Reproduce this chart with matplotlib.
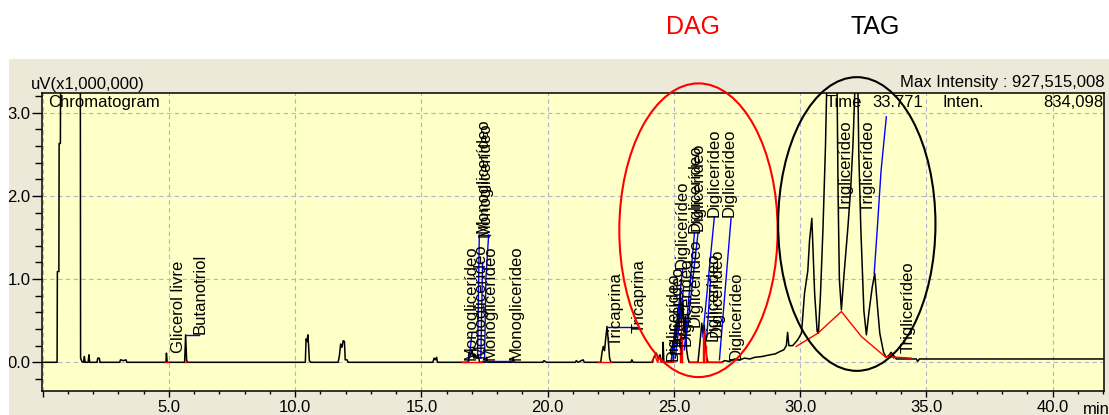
import matplotlib
matplotlib.use("Agg")
import matplotlib.pyplot as plt
from matplotlib.patches import Rectangle, Ellipse
from matplotlib.ticker import MultipleLocator

plt.rcParams['font.family'] = ['Liberation Sans', 'DejaVu Sans']

# ---- chromatogram trace (tempo em min, sinal em uV x 1e6) ----
trace_t = [0.0, 0.57, 0.58, 0.64, 0.65, 0.70, 0.71, 1.49, 1.50, 1.55, 1.62, 1.65, 1.68, 1.80,
           1.83, 1.86, 2.15, 2.18, 2.24, 2.27, 3.05, 3.08, 3.2, 3.3, 3.33, 4.88, 4.90, 4.93,
           5.62, 5.64, 5.66, 5.70, 5.75, 10.40, 10.43, 10.47, 10.50, 10.53, 10.56, 10.62,
           11.70, 11.75, 11.80, 11.85, 11.90, 11.95, 11.98, 12.05, 12.1, 15.45, 15.5, 15.55,
           15.6, 15.63, 16.85, 16.88, 16.95, 17.0, 17.05, 17.1, 17.18, 17.25, 17.30, 17.55,
           17.58, 17.62, 18.6, 18.63, 18.67, 19.8, 19.85, 19.95, 21.1, 21.13, 21.2, 21.4,
           21.45, 22.1, 22.15, 22.2, 22.25, 22.3, 22.35, 22.4, 22.45, 22.5, 23.3, 23.33,
           23.38, 24.15, 24.2, 24.3, 24.38, 24.45, 24.5, 24.55, 24.57, 24.6, 24.9, 24.95,
           25.0, 25.05, 25.1, 25.15, 25.2, 25.25, 25.3, 25.35, 25.4, 25.45, 25.5, 25.55,
           25.6, 25.95, 26.0, 26.05, 26.1, 26.15, 26.2, 26.25, 26.3, 26.35, 26.9, 27.0,
           27.2, 27.4, 27.6, 27.8, 28.0, 28.2, 28.5, 28.8, 29.0, 29.2, 29.35, 29.45, 29.5,
           29.55, 29.7, 29.9, 30.05, 30.17, 30.3, 30.37, 30.46, 30.57, 30.67, 30.72, 30.8,
           30.9, 31.0, 31.07, 31.45, 31.5, 31.55, 31.63, 31.72, 31.89, 32.0, 32.09, 32.2,
           32.27, 32.32, 32.4, 32.52, 32.62, 32.72, 32.85, 32.95, 33.05, 33.15, 33.3, 33.4,
           33.5, 33.6, 33.7, 33.8, 34.6, 34.65, 34.72, 42.2]
trace_v = [0.0, 0.0, 1.09, 1.09, 2.63, 2.63, 3.6, 3.6, 0.05, 0.01, 0.0, 0.07, 0.0, 0.0,
           0.09, 0.0, 0.0, 0.05, 0.05, 0.0, 0.0, 0.03, 0.02, 0.03, 0.0, 0.0, 0.11, 0.0,
           0.0, 0.16, 0.33, 0.02, 0.0, 0.0, 0.28, 0.25, 0.33, 0.2, 0.02, 0.0,
           0.0, 0.08, 0.22, 0.18, 0.26, 0.25, 0.03, 0.03, 0.0, 0.0, 0.05, 0.03,
           0.06, 0.0, 0.0, 0.12, 0.08, 0.15, 0.07, 0.1, 0.05, 0.09, 0.0, 0.0,
           0.06, 0.0, 0.0, 0.06, 0.0, 0.0, 0.02, 0.0, 0.0, 0.02, 0.0, 0.03,
           0.0, 0.0, 0.12, 0.19, 0.14, 0.3, 0.43, 0.25, 0.05, 0.0, 0.0, 0.03,
           0.0, 0.0, 0.06, 0.11, 0.04, 0.09, 0.0, 0.0, 0.24, 0.0, 0.0, 0.25,
           0.15, 0.45, 0.3, 0.6, 0.4, 0.83, 0.5, 0.75, 0.35, 0.55, 0.15, 0.05,
           0.0, 0.0, 0.15, 0.3, 0.47, 0.35, 0.45, 0.2, 0.05, 0.0, 0.0, 0.02,
           0.01, 0.04, 0.03, 0.05, 0.04, 0.06, 0.07, 0.09, 0.1, 0.13, 0.15, 0.2, 0.36,
           0.2, 0.2, 0.27, 0.35, 0.83, 1.1, 1.47, 1.73, 0.83, 0.37, 0.35, 0.8,
           1.6, 2.6, 3.6, 3.6, 2.0, 1.0, 0.63, 1.0, 1.63, 2.1, 2.63, 3.6,
           3.6, 2.5, 1.6, 0.62, 0.33, 0.6, 0.9, 1.07, 0.7, 0.35, 0.12, 0.06,
           0.08, 0.12, 0.08, 0.04, 0.04, 0.01, 0.04, 0.04]

# ---- marcas de pico ----
blue_lines = [
    [(5.66, 0.33), (6.2, 0.33)],
    [(16.88, 0.02), (17.0, 0.35)],
    [(17.22, 0.05), (17.29, 1.53)],
    [(17.35, 0.05), (17.42, 1.2)],
    [(17.50, 0.05), (17.55, 1.0), (17.66, 1.53)],
    [(17.27, 1.53), (17.70, 1.53)],
    [(17.40, 0.02), (18.65, 0.02)],
    [(22.35, 0.43), (23.55, 0.43)],
    [(24.88, 0.0), (25.08, 0.43)],
    [(24.97, 0.03), (25.34, 1.12)],
    [(25.05, 0.05), (25.38, 0.9)],
    [(25.41, 0.15), (25.81, 1.55)],
    [(25.45, 0.2), (25.95, 1.55)],
    [(26.14, 0.31), (26.6, 1.75)],
    [(26.3, 0.3), (26.45, 1.0)],
    [(26.8, 0.03), (27.26, 1.73)],
    [(32.93, 1.07), (33.05, 1.6), (33.2, 2.3), (33.41, 2.95)],
]
red_lines = [
    [(4.85, 0.0), (4.95, 0.0)],
    [(5.62, 0.0), (5.72, 0.0)],
    [(16.6, 0.0), (17.4, 0.0)],
    [(22.0, 0.0), (22.5, 0.0)],
    [(24.1, 0.0), (24.25, 0.08), (24.35, 0.0), (24.42, 0.06), (24.5, 0.0), (25.0, 0.0)],
    [(25.22, 0.0), (25.22, 0.35)],
    [(25.28, 0.0), (25.28, 0.55)],
    [(25.33, 0.0), (25.33, 0.3)],
    [(26.14, 0.0), (26.14, 0.3)],
    [(26.2, 0.0), (26.2, 0.38)],
    [(26.26, 0.0), (26.26, 0.2)],
    [(25.6, 0.0), (26.9, 0.0)],
    [(29.84, 0.19), (30.7, 0.35), (31.63, 0.61), (32.42, 0.31), (33.35, 0.07), (34.4, 0.05)],
    [(33.5, 0.05), (33.6, 0.1), (33.7, 0.05)],
]

peak_names = ["Glicerol livre", "Butanotriol"] + ["Monoglicerídeo"] * 6 + ["Tricaprina"] * 2 \
    + ["Diglicerídeo"] * 12 + ["Triglicerídeo"] * 3
peak_t = [5.37, 6.23, 16.98, 17.34, 17.71, 18.73, 17.45, 17.52, 22.70, 23.62,
          24.97, 25.12, 25.32, 25.5, 25.82, 25.84, 25.97, 26.55, 26.7, 26.6, 27.2, 27.46,
          31.83, 32.69, 34.27]
peak_v = [0.11, 0.34, 0.03, 0.05, 0.03, 0.03, 1.55, 1.50, 0.2, 0.35,
          0.02, 0.1, 1.12, 0.2, 0.43, 1.55, 1.58, 0.25, 0.3, 1.75, 1.75, 0.03,
          1.81, 1.81, 0.11]

W, H = 1109, 415
fig = plt.figure(figsize=(W / 100, H / 100), dpi=100)
fig.patch.set_facecolor("white")
fig.add_artist(Rectangle((8.5 / W, 0), 1 - 8.5 / W, (H - 59) / H, transform=fig.transFigure,
                         facecolor="#ece9d8", edgecolor="none", zorder=-5))

ax = fig.add_axes([41.7 / W, (H - 391) / H, (1104 - 41.7) / W, (391 - 93.3) / H])
ax.set_facecolor("#ffffc8")
ax.set_xlim(-0.04, 42.03)
ax.set_ylim(-0.345, 3.233)

ax.xaxis.set_major_locator(MultipleLocator(5))
ax.xaxis.set_minor_locator(MultipleLocator(1))
ax.yaxis.set_major_locator(MultipleLocator(1))
ax.yaxis.set_minor_locator(MultipleLocator(0.2))
ax.xaxis.set_major_formatter(lambda v, p: "" if v <= 0 else f"{v:.1f}")
ax.yaxis.set_major_formatter(lambda v, p: f"{v:.1f}")
ax.tick_params(axis="x", which="major", length=4.3, width=1, pad=2, labelsize=12)
ax.tick_params(axis="x", which="minor", length=2.5, width=1)
ax.tick_params(axis="y", which="major", length=7.2, width=1, pad=1, labelsize=12)
ax.tick_params(axis="y", which="minor", length=4.8, width=1)
for s in ax.spines.values():
    s.set_linewidth(1.1)
ax.grid(True, which="major", color="#b4b4cc", linestyle=(0, (4, 3)), linewidth=0.8)

ax.plot(trace_t, trace_v, color="black", lw=1.1, zorder=3)
for seg in blue_lines:
    ax.plot([p[0] for p in seg], [p[1] for p in seg], color="#0000ff", lw=1.0, zorder=4)
for seg in red_lines:
    ax.plot([p[0] for p in seg], [p[1] for p in seg], color="#ff0000", lw=1.0, zorder=4)

for name, t, v in zip(peak_names, peak_t, peak_v):
    ax.text(t, v, name, rotation=90, ha="center", va="bottom", fontsize=12, zorder=5)

# elipses de destaque
ax.add_patch(Ellipse((25.97, 1.587), 6.27, 3.53, fill=False, edgecolor="#ff0000", lw=1.5,
                     clip_on=False, zorder=6))
ax.add_patch(Ellipse((32.24, 1.662), 6.23, 3.53, fill=False, edgecolor="black", lw=1.5,
                     clip_on=False, zorder=6))

ax.text(0.2, 3.12, "Chromatogram", fontsize=12, va="center", ha="left")
ax.text(31.0, 3.12, "Time", fontsize=12, va="center", ha="left")
ax.text(32.85, 3.12, "33.771", fontsize=12, va="center", ha="left")
ax.text(35.65, 3.12, "Inten.", fontsize=12, va="center", ha="left")
ax.text(42.0, 3.12, "834,098", fontsize=12, va="center", ha="right")

fig.text(31 / W, 1 - 84 / H, "uV(x1,000,000)", fontsize=12, va="center", ha="left")
fig.text(1104 / W, 1 - 83 / H, "Max Intensity : 927,515,008", fontsize=12, va="center", ha="right")
fig.text(1083 / W, 1 - 409 / H, "min", fontsize=12, va="center", ha="left")
fig.text(693 / W, 1 - 27 / H, "DAG", fontsize=18, color="#ff0000", va="center", ha="center")
fig.text(875 / W, 1 - 27 / H, "TAG", fontsize=18, color="black", va="center", ha="center")

fig.add_artist(Rectangle((0, 0), 8.5 / W, 1, transform=fig.transFigure,
                         facecolor="white", edgecolor="none", zorder=10))

fig.savefig("out.png", dpi=100)
